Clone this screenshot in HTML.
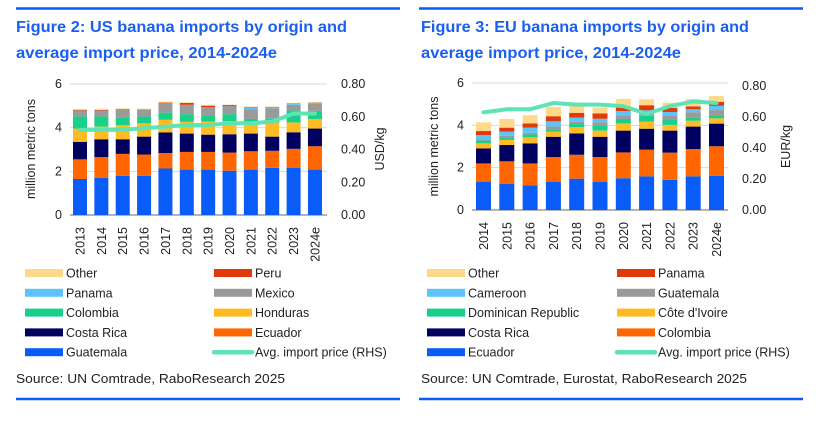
<!DOCTYPE html>
<html><head><meta charset="utf-8">
<style>
html,body{margin:0;padding:0;background:#fff;}
body{width:832px;height:416px;overflow:hidden;font-family:"Liberation Sans",sans-serif;}
svg text{font-family:"Liberation Sans",sans-serif;}
</style></head>
<body>
<svg id="root" width="832" height="416" viewBox="0 0 832 416">
  <line x1="16" y1="8.5" x2="400" y2="8.5" stroke="#0a5cf8" stroke-width="2.5"/>
  <line x1="419" y1="8.5" x2="803" y2="8.5" stroke="#0a5cf8" stroke-width="2.5"/>
  <line x1="16" y1="399" x2="400" y2="399" stroke="#0a5cf8" stroke-width="2.5"/>
  <line x1="419" y1="399" x2="803" y2="399" stroke="#0a5cf8" stroke-width="2.5"/>
  <text x="16" y="32" font-size="15.5" font-weight="bold" fill="#1a5ff0" textLength="331" lengthAdjust="spacingAndGlyphs">Figure 2: US banana imports by origin and</text>
  <text x="16" y="58" font-size="15.5" font-weight="bold" fill="#1a5ff0" textLength="261" lengthAdjust="spacingAndGlyphs">average import price, 2014-2024e</text>
  <text x="421" y="32" font-size="15.5" font-weight="bold" fill="#1a5ff0" textLength="328" lengthAdjust="spacingAndGlyphs">Figure 3: EU banana imports by origin and</text>
  <text x="421" y="58" font-size="15.5" font-weight="bold" fill="#1a5ff0" textLength="260" lengthAdjust="spacingAndGlyphs">average import price, 2014-2024e</text>
  <text x="16" y="383" font-size="13" fill="#222" textLength="269" lengthAdjust="spacingAndGlyphs">Source: UN Comtrade, RaboResearch 2025</text>
  <text x="421" y="383" font-size="13" fill="#222" textLength="326" lengthAdjust="spacingAndGlyphs">Source: UN Comtrade, Eurostat, RaboResearch 2025</text>
  <g id="us"></g>
  <g id="eu"></g>
</svg>
<script>
// ---- US chart data ----
const usYears = ["2013","2014","2015","2016","2017","2018","2019","2020","2021","2022","2023","2024e"];
const usSeriesNames = ["Guatemala","Ecuador","Costa Rica","Honduras","Colombia","Mexico","Panama","Peru","Other"];
const usGuatemala = [1.65,1.71,1.79,1.79,2.13,2.08,2.08,2.03,2.08,2.16,2.17,2.08];
const usEcuador   = [0.90,0.94,1.01,0.98,0.71,0.81,0.81,0.83,0.84,0.78,0.86,1.07];
const usCostaRica = [0.80,0.82,0.67,0.82,0.94,0.84,0.79,0.84,0.81,0.65,0.76,0.81];
const usHonduras  = [0.61,0.58,0.64,0.61,0.58,0.54,0.60,0.60,0.55,0.65,0.45,0.44];
const usColombia  = [0.55,0.46,0.37,0.31,0.33,0.35,0.28,0.32,0.12,0.19,0.55,0.37];
const usMexico    = [0.28,0.28,0.34,0.31,0.43,0.43,0.38,0.38,0.45,0.46,0.26,0.35];
const usPanama    = [0,0,0,0,0,0,0,0,0.06,0.02,0.05,0.02];
const usPeru      = [0.02,0.02,0.03,0.02,0.03,0.08,0.07,0.04,0.03,0.03,0.02,0.01];
const usOther     = [0.05,0.06,0.04,0.03,0.04,0.03,0.02,0.02,0.03,0.03,0.02,0.03];
const usPrice     = [0.52,0.52,0.52,0.53,0.54,0.55,0.55,0.56,0.56,0.57,0.62,0.62];
const usLeftTicks = ["0","2","4","6"];
const usRightTicks = ["0.00","0.20","0.40","0.60","0.80"];

// ---- EU chart data ----
const euYears = ["2014","2015","2016","2017","2018","2019","2020","2021","2022","2023","2024e"];
const euSeriesNames = ["Ecuador","Colombia","Costa Rica","Côte d'Ivoire","Dominican Republic","Guatemala","Cameroon","Panama","Other"];
const euEcuador   = [1.34,1.23,1.17,1.34,1.48,1.34,1.50,1.59,1.43,1.59,1.62];
const euColombia  = [0.86,1.07,1.03,1.16,1.13,1.16,1.22,1.26,1.28,1.29,1.39];
const euCostaRica = [0.71,0.77,0.95,0.96,1.01,0.96,1.03,0.99,1.04,1.06,1.07];
const euCotedIvoire = [0.24,0.24,0.28,0.24,0.29,0.29,0.34,0.33,0.27,0.28,0.25];
const euDominican = [0.13,0.13,0.14,0.12,0.15,0.22,0.21,0.28,0.26,0.16,0.14];
const euGuatemala = [0.06,0.06,0.08,0.13,0.11,0.17,0.17,0.06,0.16,0.24,0.25];
const euCameroon  = [0.20,0.20,0.24,0.24,0.20,0.17,0.20,0.20,0.19,0.14,0.20];
const euPanama    = [0.19,0.19,0.20,0.24,0.22,0.25,0.20,0.24,0.20,0.13,0.19];
const euOther     = [0.41,0.41,0.39,0.44,0.49,0.28,0.38,0.28,0.24,0.35,0.27];
const euPrice     = [0.63,0.65,0.65,0.69,0.68,0.68,0.67,0.62,0.67,0.70,0.69];
const euLeftTicks = ["0","2","4","6"];
const euRightTicks = ["0.00","0.20","0.40","0.60","0.80"];

const NS = "http://www.w3.org/2000/svg";
function mk(parent, tag, attrs, txt){
  const e = document.createElementNS(NS, tag);
  for (const k in attrs) e.setAttribute(k, attrs[k]);
  if (txt !== undefined) e.textContent = txt;
  parent.appendChild(e);
  return e;
}

function drawChart(g, cfg){
  const yL = v => cfg.y0 - v * cfg.unit;
  const yR = v => cfg.y0 - v * cfg.runit;
  const xC = i => cfg.x0 + i * cfg.step;
  cfg.leftTicks.forEach(t => {
    const v = parseFloat(t);
    const ln = mk(g, "line", {x1: cfg.plotL, x2: cfg.plotR, y1: yL(v), y2: yL(v), stroke: v === 0 ? "#888" : "#d9d9d9", "stroke-width": v === 0 ? 1.3 : 1});
    
    
    const tx = mk(g, "text", {x: cfg.plotL - 8, y: yL(v) + 4, "font-size": 12.5, "text-anchor": "end", fill: "#222"}, t);
    
    
  });
  cfg.rightTicks.forEach(t => {
    const v = parseFloat(t);
    const tx = mk(g, "text", {x: cfg.plotR + 14, y: yR(v) + 4, "font-size": 12.5, fill: "#222"}, t);
    
    
  });
  cfg.years.forEach((yr, i) => {
    let cum = 0;
    cfg.series.forEach((s, k) => {
      const v = s[i];
      const r = mk(g, "rect", {x: xC(i) - cfg.bw/2, y: yL(cum + v), width: cfg.bw, height: Math.max(0, v * cfg.unit), fill: cfg.colors[k]});
      
      
      cum += v;
    });
    const tx = mk(g, "text", {x: 0, y: 0, "font-size": 12.5, "text-anchor": "end", fill: "#222", transform: `translate(${xC(i)+4.5},${cfg.y0 + 12}) rotate(-90)`}, yr);
    
    
  });
  const pts = cfg.price.map((p, i) => `${xC(i)},${yR(p)}`).join(" ");
  const pl = mk(g, "polyline", {points: pts, fill: "none", stroke: "#5ee3b3", "stroke-width": 4, "stroke-linejoin": "round", "stroke-linecap": "round"});
  
  
  const at = mk(g, "text", {x: 0, y: 0, "font-size": 12.5, "text-anchor": "middle", fill: "#222", transform: `translate(${cfg.ltX},${(cfg.y0+83)/2}) rotate(-90)`}, "million metric tons");
  
  
  const rt = mk(g, "text", {x: 0, y: 0, "font-size": 12.5, "text-anchor": "middle", fill: "#222", transform: `translate(${cfg.rtX},${(cfg.y0+83)/2}) rotate(-90)`}, cfg.rTitle);
  
  
  cfg.legend.forEach((L, idx) => {
    const col = idx % 2, row = Math.floor(idx / 2);
    const sx = col ? cfg.lx2 : cfg.lx1, y = 273 + row * 19.8;
    let sw;
    if (L.line) sw = mk(g, "line", {x1: sx, x2: sx + 38, y1: y, y2: y, stroke: L.c, "stroke-width": 4.5, "stroke-linecap": "round"});
    else sw = mk(g, "rect", {x: sx, y: y - 4, width: 38, height: 8, fill: L.c});
    
    
    const tx = mk(g, "text", {x: sx + 41, y: y + 4.5, "font-size": 12.5, fill: "#222"}, L.n);
    
    
  });
}

const C = {blue:"#0a5cf8", orange:"#ff6600", navy:"#000060", yellow:"#ffbb22", green:"#18d08a", grey:"#9a9a9a", sky:"#5bc4fa", red:"#e03a0a", other:"#ffd98a", line:"#5ee3b3"};

drawChart(document.getElementById("us"), {
  years: usYears, price: usPrice, leftTicks: usLeftTicks, rightTicks: usRightTicks,
  series: [usGuatemala, usEcuador, usCostaRica, usHonduras, usColombia, usMexico, usPanama, usPeru, usOther],
  colors: [C.blue, C.orange, C.navy, C.yellow, C.green, C.grey, C.sky, C.red, C.other],
  y0: 215, unit: 21.83, runit: 163.75, x0: 80, step: 21.36, bw: 14, plotL: 70, plotR: 327,
  ltX: 35, rtX: 384, rTitle: "USD/kg", lx1: 25, lx2: 214,
  legend: [{n:"Other",c:C.other},{n:"Peru",c:C.red},{n:"Panama",c:C.sky},{n:"Mexico",c:C.grey},
           {n:"Colombia",c:C.green},{n:"Honduras",c:C.yellow},{n:"Costa Rica",c:C.navy},{n:"Ecuador",c:C.orange},
           {n:"Guatemala",c:C.blue},{n:"Avg. import price (RHS)",c:C.line,line:true}]
});

drawChart(document.getElementById("eu"), {
  years: euYears, price: euPrice, leftTicks: euLeftTicks, rightTicks: euRightTicks,
  series: [euEcuador, euColombia, euCostaRica, euCotedIvoire, euDominican, euGuatemala, euCameroon, euPanama, euOther],
  colors: [C.blue, C.orange, C.navy, C.yellow, C.green, C.grey, C.sky, C.red, C.other],
  y0: 210, unit: 21.17, runit: 155, x0: 483.5, step: 23.3, bw: 15, plotL: 472, plotR: 728,
  ltX: 438, rtX: 790, rTitle: "EUR/kg", lx1: 427, lx2: 617,
  legend: [{n:"Other",c:C.other},{n:"Panama",c:C.red},{n:"Cameroon",c:C.sky},{n:"Guatemala",c:C.grey},
           {n:"Dominican Republic",c:C.green},{n:"Côte d'Ivoire",c:C.yellow},{n:"Costa Rica",c:C.navy},{n:"Colombia",c:C.orange},
           {n:"Ecuador",c:C.blue},{n:"Avg. import price (RHS)",c:C.line,line:true}]
});
</script>
</body></html>
